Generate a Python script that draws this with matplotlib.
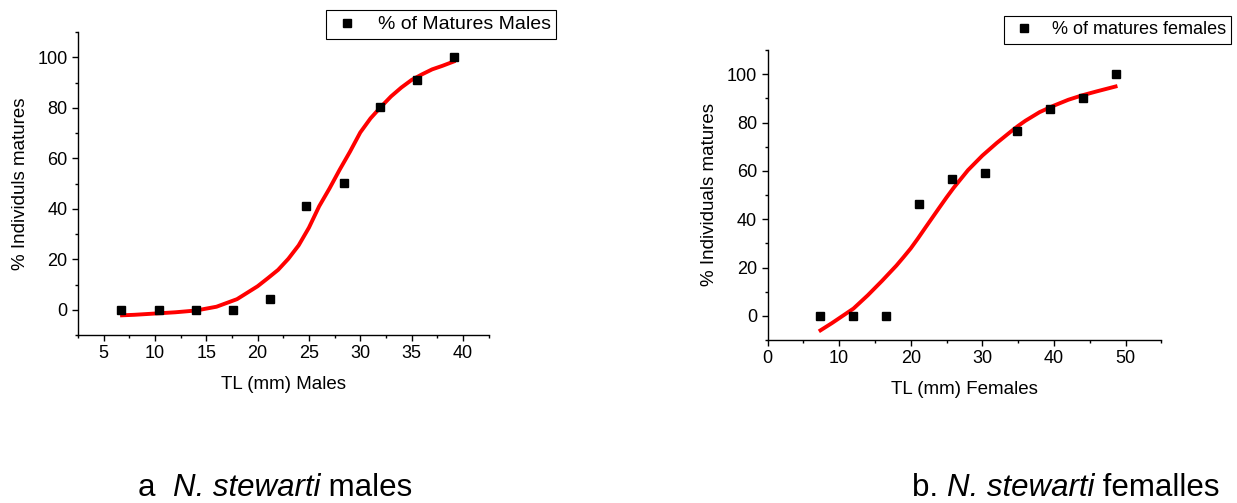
import numpy as np
import matplotlib.pyplot as plt
from matplotlib import ticker

plt.rcParams['font.family'] = ['Liberation Sans', 'DejaVu Sans']

# Males: observed % matures and fitted curve
male_tl = [6.7, 10.4, 14.0, 17.6, 21.2, 24.7, 28.4, 31.9, 35.5, 39.1]
male_pct = [0, 0, 0, 0, 4.2, 41.1, 50.3, 80.2, 91.0, 100]
male_fit_x = [6.8, 8, 10, 12, 14, 16, 18, 20, 21, 22, 23, 24, 25, 26, 27, 28,
              29, 30, 31, 32, 33, 34, 35, 36, 37, 38, 39.1]
male_fit_y = [-2.2, -2.0, -1.5, -1.0, -0.3, 1.2, 4.2, 9.3, 12.5, 15.8, 20.2,
              25.5, 32.5, 41.0, 48.0, 55.5, 62.6, 70.2, 75.8, 80.3, 84.5, 88.0,
              91.0, 93.2, 95.2, 96.6, 98.3]

# Females
female_tl = [7.4, 12.0, 16.5, 21.1, 25.7, 30.3, 34.9, 39.5, 44.0, 48.6]
female_pct = [0, 0, 0, 46.2, 56.8, 59.3, 76.3, 85.6, 90.0, 100]
female_fit_x = [7.4, 9, 10, 12, 14, 16, 18, 19, 20, 21, 22, 24, 25, 26, 28, 30,
                32, 34, 35, 36, 38, 40, 42, 44, 45, 46, 48.6]
female_fit_y = [-6.0, -3.0, -1.0, 3.0, 8.5, 14.5, 20.8, 24.3, 27.9, 32.0, 36.3,
                44.8, 49.0, 53.0, 60.3, 66.3, 71.5, 76.3, 78.6, 80.7, 84.3, 87.0,
                89.4, 91.3, 92.1, 92.9, 94.9]

fig = plt.figure(figsize=(12.37, 5.03), dpi=100)
ax1 = fig.add_axes([77.9/1237, 1-335/503, 410.7/1237, 303/503])
ax2 = fig.add_axes([767.5/1237, 1-340/503, 393.9/1237, 290/503])

panels = [
    (ax1, male_tl, male_pct, male_fit_x, male_fit_y, "% of Matures Males",
     "% Individuls matures", "TL (mm) Males", (2.5, 42.5), 5, 2.5, (326, 10), 14),
    (ax2, female_tl, female_pct, female_fit_x, female_fit_y, "% of matures females",
     "% Individuals matures", "TL (mm) Females", (0, 55), 10, 5, (1004, 16), 13),
]

for ax, x, y, fx, fy, leg, ylab, xlab, xlim, xmaj, xmin, legpos, legfs in panels:
    ax.plot(x, y, 's', color='black', ms=5.5, label=leg, zorder=3)
    ax.plot(fx, fy, '-', color='#ff0000', lw=2.8, zorder=2, solid_joinstyle='round')
    ax.set_xlim(*xlim)
    ax.set_ylim(-10, 110)
    ax.xaxis.set_major_locator(ticker.MultipleLocator(xmaj))
    ax.xaxis.set_minor_locator(ticker.MultipleLocator(xmin))
    ax.yaxis.set_major_locator(ticker.FixedLocator([0, 20, 40, 60, 80, 100]))
    ax.yaxis.set_minor_locator(ticker.MultipleLocator(10))
    ax.spines['top'].set_visible(False)
    ax.spines['right'].set_visible(False)
    for s in ('left', 'bottom'):
        ax.spines[s].set_linewidth(1.0)
    ax.tick_params(which='major', direction='out', length=4, width=1, labelsize=13)
    ax.tick_params(which='minor', direction='out', length=2.5, width=1)
    ax.set_ylabel(ylab, fontsize=13.5, labelpad=6)
    ax.set_xlabel(xlab, fontsize=13.5, labelpad=10)
    ax.legend(loc='upper left', bbox_to_anchor=(legpos[0]/1237, 1-legpos[1]/503),
              bbox_transform=fig.transFigure, borderaxespad=0, fancybox=False,
              edgecolor='black', framealpha=1, fontsize=legfs, handletextpad=0.75,
              borderpad=0.3, handlelength=1.6)
    ax.get_legend().get_frame().set_linewidth(0.8)


def caption(x0, parts):
    t = fig.text(x0/1237, 1-496/503, parts[0][0], fontsize=22.5,
                 style=parts[0][1], va='baseline')
    for s, st in parts[1:]:
        t = ax1.annotate(s, xy=(1, 0), xycoords=t, xytext=(0, 0),
                         textcoords='offset points', fontsize=22.5,
                         style=st, va='bottom', annotation_clip=False)


caption(138, [("a  ", 'normal'), ("N. stewarti", 'italic'), (" males", 'normal')])
caption(912, [("b. ", 'normal'), ("N. stewarti", 'italic'), (" femalles", 'normal')])

fig.set_facecolor('w')
plt.savefig('out.png', dpi=100)
